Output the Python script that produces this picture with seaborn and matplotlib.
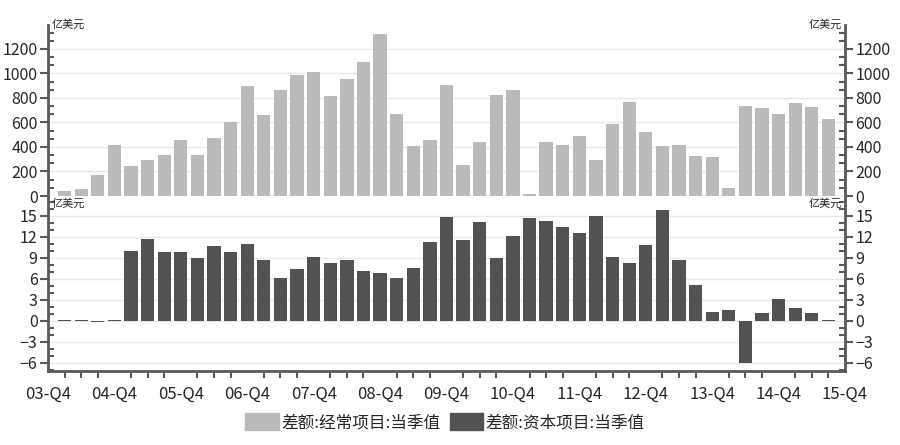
import seaborn as sns
import numpy as np
import pandas as pd
import matplotlib.pyplot as plt
from matplotlib.ticker import MultipleLocator

# quarters on the axis: 03-Q4 ... 15-Q4
quarters = [f"{y % 100:02d}-Q{q}" for y in range(2003, 2016) for q in range(1, 5)]
quarters = quarters[3:]
bar_quarters = quarters[1:-1]  # 04-Q1 ... 15-Q3

# 差额:经常项目:当季值 (亿美元)
current_acct = [41, 57, 175, 417, 248, 295, 335, 458, 335, 475,
                605, 900, 663, 867, 990, 1015, 818, 957, 1096, 1325,
                671, 404, 458, 908, 256, 442, 826, 862, 16, 442,
                417, 491, 295, 589, 769, 524, 409, 417, 327, 319,
                65, 736, 720, 671, 761, 728, 630]

# 差额:资本项目:当季值 (亿美元)
capital_acct = [0.12, 0.12, -0.2, 0.15, 10.0, 11.7, 9.86, 9.86, 9.0, 10.7,
                9.86, 11.0, 8.71, 6.14, 7.43, 9.14, 8.29, 8.71, 7.14, 6.86,
                6.14, 7.57, 11.29, 14.86, 11.57, 14.14, 9.0, 12.14, 14.71, 14.29,
                13.43, 12.57, 15.0, 9.14, 8.29, 10.86, 15.86, 8.71, 5.14, 1.29,
                1.57, -6.0, 1.14, 3.14, 1.86, 1.14, 0.12]

name_top = "差额:经常项目:当季值"
name_bot = "差额:资本项目:当季值"
unit = "亿美元"

light = "#bababa"
dark = "#525252"
spine_c = "#5a5a5a"

sns.set_style("white")
plt.rcParams['font.family'] = ['Noto Sans CJK SC', 'DejaVu Sans']

df = pd.DataFrame({"quarter": bar_quarters,
                   "current": current_acct,
                   "capital": capital_acct})

fig = plt.figure(figsize=(9, 4.45), dpi=100)
ax1 = fig.add_axes([48 / 900, 1 - 196 / 445, 797 / 900, 171 / 445])
ax2 = fig.add_axes([48 / 900, 1 - 371 / 445, 797 / 900, 173 / 445])

sns.barplot(data=df, x="quarter", y="current", order=quarters, color=light,
            width=0.8, linewidth=0, saturation=1, errorbar=None, ax=ax1)
sns.barplot(data=df, x="quarter", y="capital", order=quarters, color=dark,
            width=0.8, linewidth=0, saturation=1, errorbar=None, ax=ax2)

for ax in (ax1, ax2):
    ax.set_xlim(0, len(quarters) - 1)
    ax.set_xlabel("")
    ax.set_ylabel("")
    ax.yaxis.set_ticks_position("both")
    ax.tick_params(axis="y", which="major", direction="out", length=6, width=1.5,
                   color=spine_c, labelsize=11.5, pad=1.5,
                   labelleft=True, labelright=True)
    ax.tick_params(axis="y", which="minor", direction="in", length=4, width=1.5,
                   color=spine_c, left=True, right=True)
    ax.grid(axis="y", which="major", color="#e8e8e8", linewidth=1)
    ax.set_axisbelow(True)
    for side in ("left", "right"):
        ax.spines[side].set_color(spine_c)
        ax.spines[side].set_linewidth(2)
    ax.spines["top"].set_visible(False)
    ax.text(0.004, 1.0, unit, transform=ax.transAxes, fontsize=8,
            ha="left", va="center" if ax is ax1 else "top")
    ax.text(0.996, 1.0, unit, transform=ax.transAxes, fontsize=8,
            ha="right", va="center" if ax is ax1 else "top")

ax1.set_ylim(0, 1395)
ax1.yaxis.set_major_locator(MultipleLocator(200))
ax1.yaxis.set_minor_locator(MultipleLocator(200 / 3))
ax1.spines["bottom"].set_visible(False)
ax1.tick_params(axis="x", which="both", bottom=False, labelbottom=False)

ax2.set_ylim(-7.15, 17.55)
ax2.yaxis.set_major_locator(MultipleLocator(3))
ax2.yaxis.set_minor_locator(MultipleLocator(1))
ax2.spines["bottom"].set_color(spine_c)
ax2.spines["bottom"].set_linewidth(2)
ax2.set_xticks(range(0, len(quarters), 4))
ax2.set_xticklabels(quarters[::4])
ax2.xaxis.set_minor_locator(MultipleLocator(1))
ax2.tick_params(axis="x", which="major", direction="out", length=10, width=1.5,
                color=spine_c, labelsize=12, pad=1)
ax2.tick_params(axis="x", which="minor", direction="out", length=5, width=1.5,
                color=spine_c, bottom=True)

handles = [plt.Rectangle((0, 0), 1, 1, color=light),
           plt.Rectangle((0, 0), 1, 1, color=dark)]
fig.legend(handles, [name_top, name_bot], loc="center", ncol=2,
           bbox_to_anchor=(445 / 900, 1 - 422 / 445), frameon=False,
           fontsize=12, handlelength=2.0, handleheight=1.2,
           handletextpad=0.15, columnspacing=0.55, borderpad=0)

plt.savefig("out.png", dpi=100)
